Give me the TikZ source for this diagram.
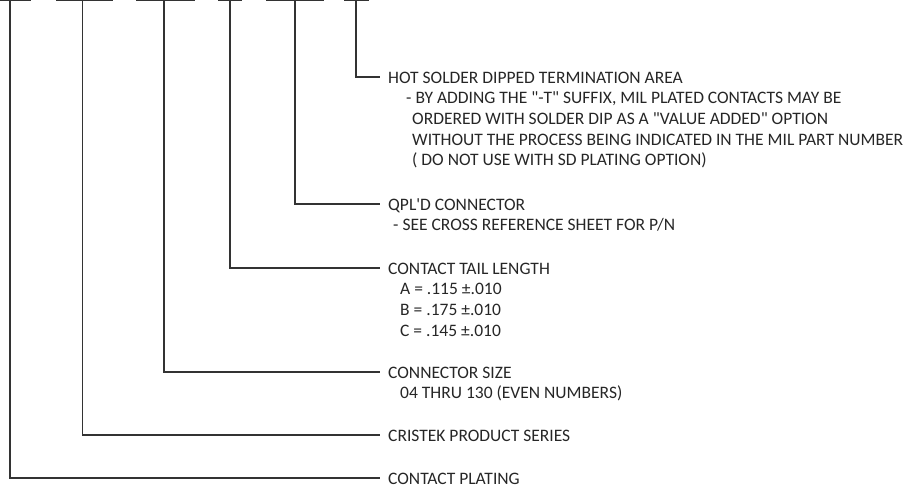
\documentclass[tikz,border=0pt]{standalone}
\usepackage{fontspec}
\setmainfont{Carlito}
\newcommand\dq{\XeTeXglyph\XeTeXcharglyph"22\relax}
\newcommand\sq{\XeTeXglyph\XeTeXcharglyph"27\relax}
\begin{document}
\begin{tikzpicture}[x=1pt,y=-1pt,
  ld/.style={line width=1.2pt, draw=black!80},
  lbl/.style={anchor=base west, inner sep=0pt, text=black!85, font=\fontsize{17.5}{20.7}\selectfont}]
\useasboundingbox (0,0) rectangle (923,487);
% top bars
\coordinate (b1l) at (0,0.6);   \coordinate (b1r) at (31,0.6);
\coordinate (b2l) at (56,0.6);  \coordinate (b2r) at (113,0.6);
\coordinate (b3l) at (136,0.6); \coordinate (b3r) at (195,0.6);
\coordinate (b4l) at (218,0.6); \coordinate (b4r) at (242,0.6);
\coordinate (b5l) at (266,0.6); \coordinate (b5r) at (324,0.6);
\coordinate (b6l) at (344,0.6); \coordinate (b6r) at (369,0.6);
\foreach \i in {1,...,6} { \draw[ld] (b\i l) -- (b\i r); }
% stem tops
\coordinate (t1) at (10,0.6);
\coordinate (t2) at (82.7,0.6);
\coordinate (t3) at (164,0.6);
\coordinate (t4) at (230,0.6);
\coordinate (t5) at (295,0.6);
\coordinate (t6) at (356,0.6);
% lead ends
\coordinate (e1) at (380,478);
\coordinate (e2) at (380,435);
\coordinate (e3) at (380,372);
\coordinate (e4) at (380,268);
\coordinate (e5) at (380,204);
\coordinate (e6) at (380,77);
\foreach \i in {1,...,6} { \draw[ld] (t\i) |- (e\i); }
% labels
\node[lbl] (hot) at (388,83) {HOT SOLDER DIPPED TERMINATION AREA};
\node[lbl] (hot1) at (406,103.7) {- BY ADDING THE \dq-T\dq{} SUFFIX, MIL PLATED CONTACTS MAY BE};
\node[lbl] (hot2) at (412,124.4) {ORDERED WITH SOLDER DIP AS A \dq VALUE ADDED\dq{} OPTION};
\node[lbl] (hot3) at (412,145.1) {WITHOUT THE PROCESS BEING INDICATED IN THE MIL PART NUMBER};
\node[lbl] (hot4) at (412,165.8) {( DO NOT USE WITH SD PLATING OPTION)};
\node[lbl] (qpl) at (388,210) {QPL\sq D CONNECTOR};
\node[lbl] (qpl1) at (393,230.7) {- SEE CROSS REFERENCE SHEET FOR P/N};
\node[lbl] (ctl) at (388,274) {CONTACT TAIL LENGTH};
\node[lbl] (ctla) at (400,294.7) {A = .115 ±.010};
\node[lbl] (ctlb) at (400,315.4) {B = .175 ±.010};
\node[lbl] (ctlc) at (400,336.1) {C = .145 ±.010};
\node[lbl] (cs) at (388,378) {CONNECTOR SIZE};
\node[lbl] (cs1) at (400,398.7) {04 THRU 130 (EVEN NUMBERS)};
\node[lbl] (cps) at (388,441) {CRISTEK PRODUCT SERIES};
\node[lbl] (cp) at (388,484) {CONTACT PLATING};
\end{tikzpicture}
\end{document}
